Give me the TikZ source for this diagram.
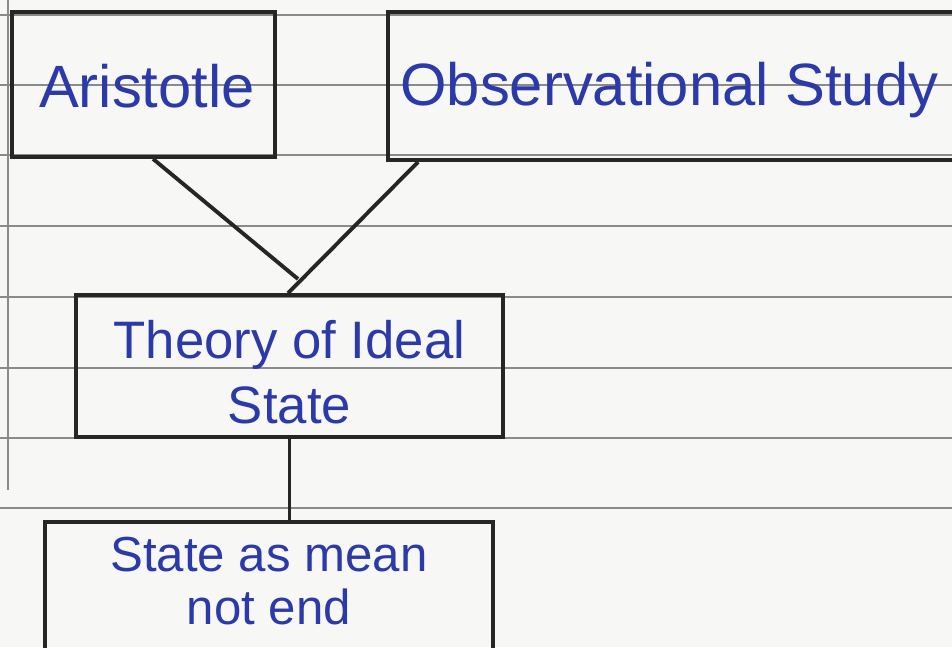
\documentclass[tikz,border=0pt]{standalone}
\usepackage{fontspec}
\setmainfont{Liberation Sans}
\definecolor{paper}{HTML}{F7F7F5}
\definecolor{rule}{HTML}{8A8A8A}
\definecolor{ink}{HTML}{2B3AA8}
\begin{document}
\begin{tikzpicture}[x=0.02cm,y=-0.02cm,
  box/.style={draw=black!85,line width=2.2pt,inner sep=0pt},
  conn/.style={draw=black!85,line width=2.2pt},
  paperline/.style={draw=rule,line width=0.9pt},
  label/.style={text=ink,inner sep=0pt,align=center}]
\fill[paper] (0,0) rectangle (952,647);
\clip (0,0) rectangle (952,647);
% ruled paper
\foreach \yy in {15,85,155,226,297,368,438,508}
  \draw[paperline] (0,\yy) -- (952,\yy);
\draw[paperline] (8,0) -- (8,490);
% boxes
\node[box,minimum width=5.26cm,minimum height=2.9cm] (A) at (143.5,84.5) {};
\node[box,minimum width=12.24cm,minimum height=2.96cm] (O) at (694,86) {};
\node[box,minimum width=8.54cm,minimum height=2.84cm] (T) at (289.5,366) {};
\node[box,minimum width=8.96cm,minimum height=3.16cm] (S) at (269,601) {};
% labels
\node[label,font=\fontsize{34}{40}\selectfont] (At) at (147,86) {Aristotle};
\node[label,anchor=west,font=\fontsize{34}{40}\selectfont] (Ot) at (400,90) {Observational Study};
\node[label,font=\fontsize{30}{37}\selectfont] (Tt) at (289.5,372) {Theory of Ideal\\State};
\node[label,font=\fontsize{28}{30}\selectfont] (St) at (269,581) {State as mean\\not end};
% connectors
\coordinate (J) at (298,279);
\draw[conn] ([xshift=2.86cm]A.south west) -- (J);
\draw[conn] ([xshift=0.64cm]O.south west) -- ([xshift=4.28cm]T.north west);
\draw[conn] (T.south) -- (T.south |- S.north);
\end{tikzpicture}
\end{document}
